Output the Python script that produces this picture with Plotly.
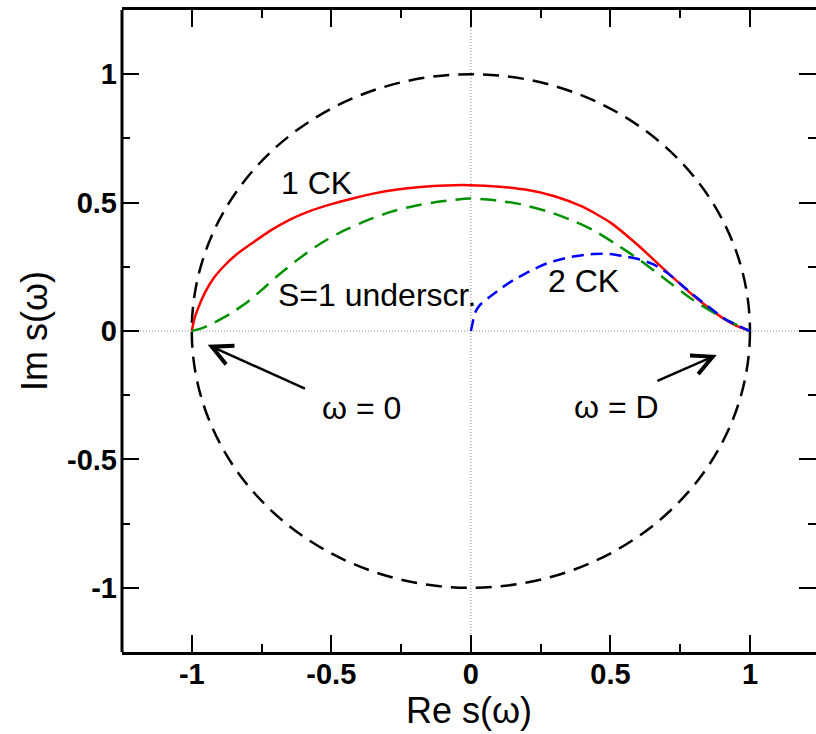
import plotly.graph_objects as go

# ---- data ----
red_x = [-1.0, -0.99, -0.975, -0.95, -0.92, -0.88, -0.84, -0.78, -0.72, -0.65,
         -0.58, -0.50, -0.42, -0.35, -0.27, -0.18, -0.09, -0.004, 0.104, 0.20,
         0.30, 0.40, 0.50, 0.60, 0.70, 0.80, 0.90, 0.95, 1.0]
red_y = [0.0, 0.05, 0.095, 0.155, 0.208, 0.258, 0.298, 0.345, 0.39, 0.433,
         0.466, 0.494, 0.517, 0.535, 0.550, 0.561, 0.567, 0.568, 0.562, 0.550,
         0.525, 0.484, 0.422, 0.333, 0.232, 0.135, 0.052, 0.021, 0.0]

green_x = [-1.0, -0.96, -0.924, -0.864, -0.804, -0.746, -0.685, -0.613, -0.541, -0.459,
           -0.374, -0.290, -0.207, -0.111, -0.004, 0.080, 0.176, 0.283, 0.373, 0.438,
           0.520, 0.606, 0.701, 0.797, 0.916, 1.0]
green_y = [0.0, 0.012, 0.030, 0.066, 0.110, 0.163, 0.222, 0.284, 0.339, 0.389,
           0.430, 0.463, 0.486, 0.504, 0.516, 0.510, 0.494, 0.463, 0.426, 0.393,
           0.338, 0.276, 0.198, 0.120, 0.043, 0.0]

blue_x = [0.0, 0.007, 0.014, 0.032, 0.068, 0.104, 0.152, 0.211, 0.271, 0.355, 0.438,
          0.498, 0.558, 0.606, 0.653, 0.702, 0.749, 0.785, 0.821, 0.867, 0.916, 0.975, 1.0]
blue_y = [0.0, 0.035, 0.069, 0.101, 0.133, 0.163, 0.198, 0.233, 0.263, 0.288, 0.300,
          0.300, 0.289, 0.278, 0.260, 0.228, 0.185, 0.152, 0.120, 0.082, 0.043, 0.012, 0.0]

tick_vals = [-1, -0.5, 0, 0.5, 1]
tick_text = ["-1", "-0.5", "0", "0.5", "1"]
minor_vals = [-0.75, -0.25, 0.25, 0.75]

labels = ["1 CK", "S=1 underscr.", "2 CK", "ω = 0", "ω = D"]
label_x = [-0.553, -0.338, 0.405, -0.392, 0.523]
label_y = [0.576, 0.140, 0.195, -0.300, -0.296]

arrow_head_x = [-0.943, 0.881]
arrow_head_y = [-0.054, -0.093]
arrow_tail_x = [-0.589, 0.663]
arrow_tail_y = [-0.227, -0.197]

FONT = "Liberation Sans, Arial, Helvetica, sans-serif"

fig = go.Figure()

fig.add_trace(go.Scatter(x=red_x, y=red_y, mode="lines",
                         line=dict(color="#ff0000", width=2.5, shape="spline", smoothing=0.6),
                         showlegend=False))
fig.add_trace(go.Scatter(x=green_x, y=green_y, mode="lines",
                         line=dict(color="#009000", width=2.5, dash="16px,9px",
                                   shape="spline", smoothing=0.6),
                         showlegend=False))
fig.add_trace(go.Scatter(x=blue_x, y=blue_y, mode="lines",
                         line=dict(color="#0000ff", width=2.5, dash="12px,7px",
                                   shape="spline", smoothing=0.6),
                         showlegend=False))

# zero reference lines (dotted) and unit circle
fig.add_shape(type="line", xref="x", yref="paper", x0=0, x1=0, y0=0, y1=1,
              line=dict(color="#888888", width=1, dash="1px,2px"), layer="below")
fig.add_shape(type="line", xref="paper", yref="y", x0=0, x1=1, y0=0, y1=0,
              line=dict(color="#888888", width=1, dash="1px,2px"), layer="below")
fig.add_shape(type="circle", xref="x", yref="y", x0=-1, x1=1, y0=-1, y1=1,
              line=dict(color="black", width=2.5, dash="16px,9px"), layer="below")
# left frame edge (right edge falls outside the picture in the reference)
fig.add_shape(type="line", xref="paper", yref="paper", x0=0, x1=0, y0=0, y1=1,
              line=dict(color="black", width=3), layer="above")

for t, x, y in zip(labels, label_x, label_y):
    fig.add_annotation(x=x, y=y, text=t, showarrow=False,
                       font=dict(family=FONT, size=32, color="black"))

for hx, hy, tx, ty in zip(arrow_head_x, arrow_head_y, arrow_tail_x, arrow_tail_y):
    fig.add_annotation(x=hx, y=hy, ax=tx, ay=ty, xref="x", yref="y", axref="x", ayref="y",
                       text="", showarrow=True, arrowhead=5, arrowsize=1.6, arrowwidth=2.5,
                       arrowcolor="black")

axis_common = dict(
    linecolor="black", linewidth=3, mirror="allticks",
    ticks="inside", ticklen=17, tickwidth=1.5, tickcolor="black",
    showgrid=False, zeroline=False,
    tickvals=tick_vals, ticktext=tick_text,
    tickfont=dict(family=FONT, size=29, color="black", weight="bold"),
    minor=dict(ticks="inside", ticklen=8, tickwidth=1.5, tickcolor="black",
               tickvals=minor_vals, showgrid=False),
)

fig.update_xaxes(range=[-1.25, 1.2366], showline=True,
                 title=dict(text="Re s(ω)", font=dict(family=FONT, size=36, color="black"),
                            standoff=0),
                 ticklabelstandoff=-6, **axis_common)
fig.update_yaxes(range=[-1.25, 1.25], showline=False,
                 title=dict(text="Im s(ω)", font=dict(family=FONT, size=36, color="black"),
                            standoff=8),
                 ticklabelstandoff=4, **axis_common)

fig.update_layout(width=816, height=734, margin=dict(l=122, r=0, t=10, b=82),
                  plot_bgcolor="white", paper_bgcolor="white", showlegend=False)

fig.write_html("out.html")
